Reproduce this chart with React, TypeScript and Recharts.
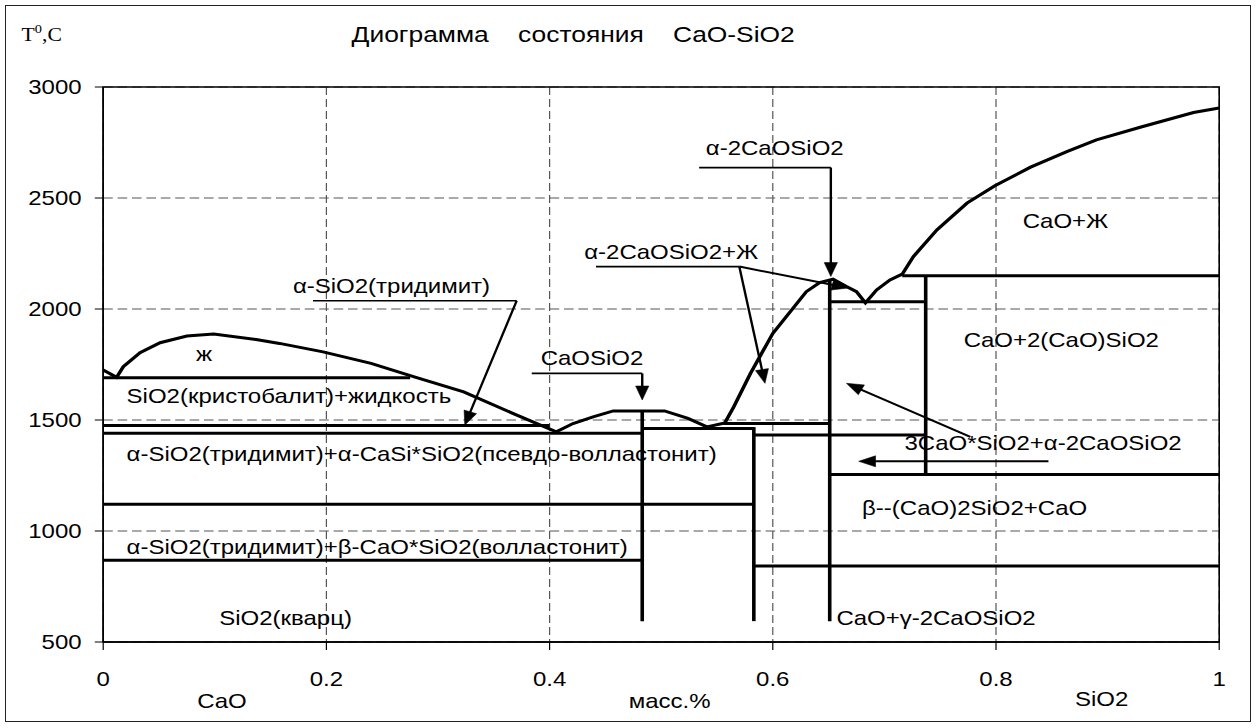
import React from 'react';
import {
  ComposedChart,
  Line,
  XAxis,
  YAxis,
  CartesianGrid,
  ReferenceLine,
  ReferenceDot,
  ReferenceArea,
} from 'recharts';

// ---------- data ----------
const xTicks = [0, 0.2, 0.4, 0.6, 0.8, 1];
const yTicks = [500, 1000, 1500, 2000, 2500, 3000];

// liquidus curve (mass fraction, temperature)
const liquidusX = [
  0, 0.012, 0.018, 0.033, 0.051, 0.075, 0.099, 0.137, 0.158, 0.197, 0.24, 0.278, 0.323, 0.367,
  0.406, 0.421, 0.439, 0.457, 0.503, 0.524, 0.541, 0.557, 0.565, 0.58, 0.6, 0.63, 0.642, 0.654,
  0.666, 0.675, 0.683, 0.693, 0.705, 0.716, 0.726, 0.747, 0.774, 0.799, 0.831, 0.864, 0.89,
  0.93, 0.977, 1.0,
];
const liquidusT = [
  1725, 1692, 1740, 1803, 1848, 1878, 1887, 1863, 1845, 1807, 1755, 1695, 1627, 1530,
  1447, 1484, 1514, 1541, 1541, 1507, 1469, 1487, 1559, 1710, 1890, 2078, 2119, 2134,
  2101, 2078, 2028, 2086, 2131, 2157, 2236, 2356, 2477, 2555, 2639, 2710, 2762,
  2820, 2885, 2905,
];

// thick phase boundaries: [x1, T1, x2, T2]
const phaseLines: number[][] = [
  [0, 1690, 0.275, 1690],
  [0, 1475, 0.4, 1475],
  [0, 1440, 0.483, 1440],
  [0, 1120, 0.583, 1120],
  [0, 868, 0.483, 868],
  [0.483, 1545, 0.483, 594],
  [0.483, 1462, 0.583, 1462],
  [0.556, 1484, 0.651, 1484],
  [0.583, 1432, 0.737, 1432],
  [0.583, 1468, 0.583, 594],
  [0.583, 842, 1, 842],
  [0.651, 2134, 0.651, 594],
  [0.651, 2033, 0.737, 2033],
  [0.716, 2150, 1, 2150],
  [0.737, 2150, 0.737, 1254],
  [0.651, 1254, 1, 1254],
];

// label underlines: [x1, T1, x2, T2]
const leaderLines: number[][] = [
  [0.188, 2037, 0.3705, 2037],
  [0.384, 1710, 0.483, 1710],
  [0.4416, 2191, 0.57, 2191],
  [0.534, 2637, 0.652, 2637],
];

// arrows: [fromX, fromT, toX, toT]
const arrows: number[][] = [
  [0.3705, 2037, 0.324, 1477],
  [0.483, 1710, 0.483, 1590],
  [0.57, 2191, 0.593, 1665],
  [0.57, 2191, 0.668, 2095],
  [0.652, 2637, 0.652, 2146],
  [0.777, 1424, 0.666, 1665],
  [0.847, 1314, 0.677, 1314],
];

// region labels (left edge x, vertical centre T)
const labelText = [
  'α-SiO2(тридимит)',
  'ж',
  'SiO2(кристобалит)+жидкость',
  'α-SiO2(тридимит)+α-CaSi*SiO2(псевдо-волластонит)',
  'α-SiO2(тридимит)+β-CaO*SiO2(волластонит)',
  'SiO2(кварц)',
  'CaOSiO2',
  'α-2CaOSiO2+Ж',
  'α-2CaOSiO2',
  'CaO+Ж',
  'CaO+2(CaO)SiO2',
  '3CaO*SiO2+α-2CaOSiO2',
  'β--(CaO)2SiO2+CaO',
  'CaO+γ-2CaOSiO2',
];
const labelX = [0.17, 0.0831, 0.021, 0.021, 0.021, 0.104, 0.392, 0.431, 0.54, 0.824, 0.771, 0.718, 0.68, 0.657];
const labelT = [2101, 1797, 1608, 1345, 928, 606, 1778, 2258, 2725, 2394, 1860, 1394, 1101, 605];

const titleText = 'Диограмма    состояния    CaO-SiO2';
const axisNames = ['CaO', 'масс.%', 'SiO2'];

// ---------- layout ----------
const SX = 1.2; // the reference is horizontally stretched
const W = 1047;
const H = 728;
const FONT = '"Liberation Sans", Arial, Helvetica, sans-serif';

const liquidus = liquidusX.map((x, i) => ({ x, t: liquidusT[i] }));

const arrowShape = (p: any) => {
  const { x1, y1, x2, y2 } = p;
  const dx = x2 - x1;
  const dy = y2 - y1;
  const len = Math.hypot(dx, dy) || 1;
  const ux = dx / len;
  const uy = dy / len;
  const hl = 14;
  const hw = 5.5;
  const bx = x2 - ux * hl;
  const by = y2 - uy * hl;
  const pts = `${x2},${y2} ${bx - uy * hw},${by + ux * hw} ${bx + uy * hw},${by - ux * hw}`;
  return (
    <g>
      <line x1={x1} y1={y1} x2={bx + ux * 2} y2={by + uy * 2} stroke="#000" strokeWidth={2} />
      <polygon points={pts} fill="#000" stroke="#000" strokeWidth={0.5} />
    </g>
  );
};

const textShape = (text: string) => (p: any) => (
  <text
    x={p.cx}
    y={p.cy}
    dominantBaseline="central"
    textAnchor="start"
    fontFamily={FONT}
    fontSize={20}
    fill="#000"
    style={{ whiteSpace: 'pre' }}
  >
    {text}
  </text>
);

export default function App() {
  return (
    <div style={{ position: 'absolute', left: 0, top: 0, width: 1257, height: 728, background: '#fff' }}>
      <div
        style={{
          position: 'absolute',
          left: 5,
          top: 5,
          width: 1246,
          height: 717,
          border: '1px solid #222',
          boxSizing: 'border-box',
        }}
      />
      <div
        style={{
          position: 'absolute',
          left: 0,
          top: 0,
          width: W,
          height: H,
          transform: `scaleX(${SX})`,
          transformOrigin: '0 0',
        }}
      >
        <ComposedChart width={W} height={H} margin={{ top: 87, right: 31, left: 0, bottom: 0 }}>
          <CartesianGrid stroke="#555" strokeDasharray="8 4" strokeWidth={1} />
          <XAxis
            type="number"
            dataKey="x"
            domain={[0, 1]}
            ticks={xTicks}
            height={86}
            tickSize={8}
            tickMargin={22}
            axisLine={{ stroke: '#000', strokeWidth: 1.3 }}
            tickLine={{ stroke: '#000' }}
            tick={{ fill: '#000', fontSize: 20, fontFamily: FONT }}
            interval={0}
          />
          <YAxis
            type="number"
            domain={[500, 3000]}
            ticks={yTicks}
            width={86}
            tickSize={7}
            tickMargin={11}
            axisLine={{ stroke: '#000', strokeWidth: 1.3 }}
            tickLine={{ stroke: '#000' }}
            tick={{ fill: '#000', fontSize: 20, fontFamily: FONT }}
            interval={0}
          />
          <ReferenceArea x1={0} x2={1} y1={500} y2={3000} fill="none" fillOpacity={0} stroke="#000" strokeWidth={1.3} />
          {phaseLines.map((s, i) => (
            <ReferenceLine
              key={`p${i}`}
              segment={[
                { x: s[0], y: s[1] },
                { x: s[2], y: s[3] },
              ]}
              stroke="#000"
              strokeWidth={3}
            />
          ))}
          {leaderLines.map((s, i) => (
            <ReferenceLine
              key={`l${i}`}
              segment={[
                { x: s[0], y: s[1] },
                { x: s[2], y: s[3] },
              ]}
              stroke="#000"
              strokeWidth={1.6}
            />
          ))}
          {arrows.map((s, i) => (
            <ReferenceLine
              key={`a${i}`}
              segment={[
                { x: s[0], y: s[1] },
                { x: s[2], y: s[3] },
              ]}
              shape={arrowShape}
            />
          ))}
          <Line
            data={liquidus}
            dataKey="t"
            type="linear"
            stroke="#000"
            strokeWidth={3}
            dot={false}
            activeDot={false}
            isAnimationActive={false}
          />
          {labelText.map((t, i) => (
            <ReferenceDot key={`t${i}`} x={labelX[i]} y={labelT[i]} r={1} shape={textShape(t)} />
          ))}
        </ComposedChart>
        <svg
          width={W}
          height={H}
          style={{ position: 'absolute', left: 0, top: 0, pointerEvents: 'none' }}
        >
          <text x={18} y={41} fontFamily='"Liberation Serif", "Times New Roman", serif' fontSize={18} fill="#000">
            T
            <tspan dy={-8} fontSize={12}>0</tspan>
            <tspan dy={8}>,C</tspan>
          </text>
          <text
            x={293}
            y={34}
            dominantBaseline="central"
            fontFamily={FONT}
            fontSize={22}
            fill="#000"
            style={{ whiteSpace: 'pre' }}
          >
            {titleText}
          </text>
          <text x={185} y={701} dominantBaseline="central" textAnchor="middle" fontFamily={FONT} fontSize={20} fill="#000">
            {axisNames[0]}
          </text>
          <text x={558} y={701} dominantBaseline="central" textAnchor="middle" fontFamily={FONT} fontSize={20} fill="#000">
            {axisNames[1]}
          </text>
          <text x={918} y={699} dominantBaseline="central" textAnchor="middle" fontFamily={FONT} fontSize={20} fill="#000">
            {axisNames[2]}
          </text>
        </svg>
      </div>
    </div>
  );
}
